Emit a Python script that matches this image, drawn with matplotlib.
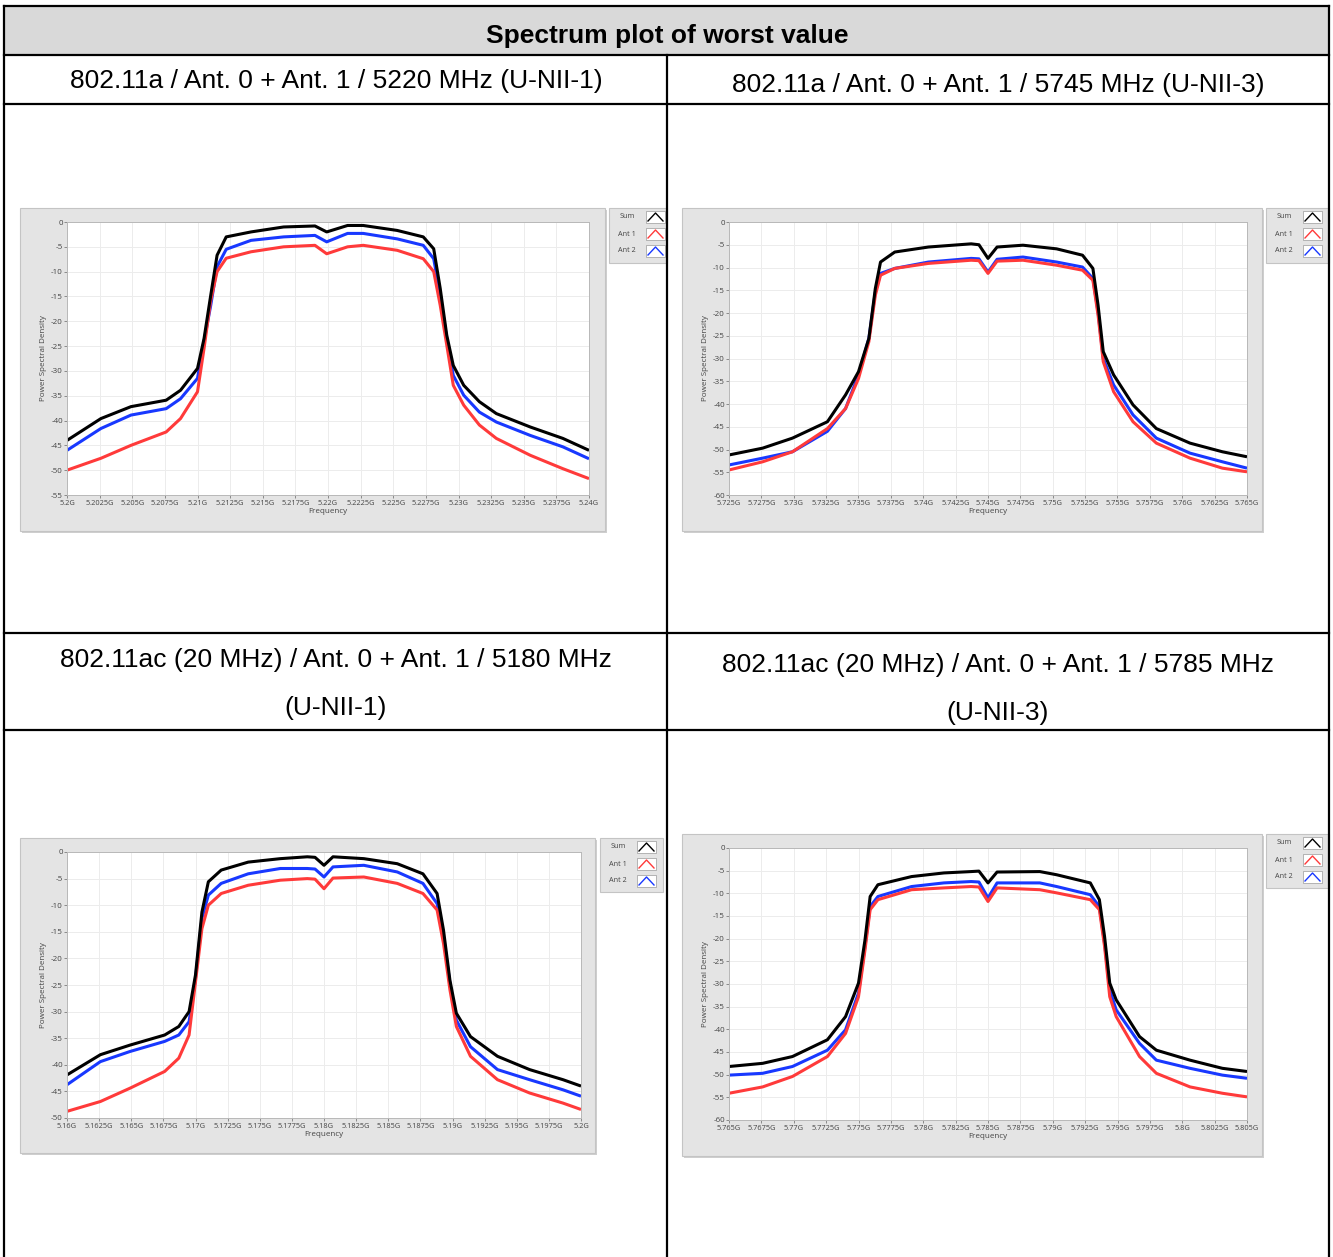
import matplotlib
matplotlib.use('Agg')
import matplotlib.pyplot as plt
from matplotlib.patches import Rectangle
from matplotlib.ticker import FuncFormatter
import numpy as np

plt.rcParams['axes.unicode_minus'] = False

# ---------------- data (GHz, dB) ----------------
# 802.11a 5220 MHz (U-NII-1)
freq_a_5220 = [5.2, 5.2026, 5.2049, 5.2076, 5.2087, 5.21, 5.2105, 5.211, 5.2115, 5.2122, 5.2141, 5.2166,
               5.219, 5.2199, 5.2215, 5.2227, 5.2253, 5.2273, 5.2281, 5.2286, 5.2291, 5.2296, 5.2304,
               5.2316, 5.2329, 5.2355, 5.238, 5.24]
sum_a_5220 = [-44, -39.6, -37.2, -35.9, -33.9, -29.5, -23.5, -15, -6.7, -3, -2, -1, -0.8, -2, -0.7, -0.7,
              -1.7, -3, -5.4, -13.4, -22.8, -28.9, -32.9, -36.2, -38.6, -41.3, -43.6, -46]
ant1_a_5220 = [-50, -47.6, -45, -42.3, -39.6, -34.2, -25.5, -16, -10, -7.3, -6, -5, -4.7, -6.4, -5, -4.7,
               -5.7, -7.4, -10, -16.8, -24.8, -32.9, -36.9, -40.9, -43.6, -47, -49.7, -51.7]
ant2_a_5220 = [-46, -41.6, -38.9, -37.6, -35.6, -31.5, -24, -17, -9, -5.5, -3.7, -3, -2.7, -4, -2.3, -2.3,
               -3.4, -4.7, -7.4, -14.8, -23.5, -30.9, -34.9, -38.3, -40.3, -43, -45.3, -47.7]

# 802.11a 5745 MHz (U-NII-3)
freq_a_5745 = [5.725, 5.7276, 5.7299, 5.7326, 5.734, 5.735, 5.7358, 5.7363, 5.7367, 5.7378, 5.7404, 5.7437,
               5.7443, 5.745, 5.7457, 5.7477, 5.7503, 5.7523, 5.7531, 5.7535, 5.7539, 5.7547, 5.7562,
               5.758, 5.7606, 5.7631, 5.765]
sum_a_5745 = [-51.2, -49.7, -47.5, -43.9, -38, -32.9, -25.6, -14.6, -8.8, -6.6, -5.5, -4.8, -5.0, -8, -5.5,
              -5.1, -5.9, -7.3, -10.2, -18.3, -28.5, -33.6, -40.2, -45.4, -48.6, -50.5, -51.6]
ant1_a_5745 = [-54.5, -52.7, -50.5, -45.4, -41, -34.4, -26.3, -16.1, -11.7, -10.2, -9.1, -8.4, -8.5, -11.3,
               -8.6, -8.4, -9.5, -10.6, -12.8, -20.5, -30.7, -37.3, -43.9, -48.6, -51.9, -54.1, -54.9]
ant2_a_5745 = [-53.4, -51.9, -50.5, -46, -41, -33.6, -25.6, -15.4, -11.3, -10.2, -8.8, -8, -8.1, -11, -8.2,
               -7.7, -8.8, -9.9, -12.4, -19.8, -30, -35.8, -42.4, -47.5, -50.8, -52.7, -54.1]

# 802.11ac (20 MHz) 5180 MHz (U-NII-1)
freq_ac_5180 = [5.16, 5.1626, 5.1649, 5.1676, 5.1687, 5.1695, 5.17, 5.1705, 5.171, 5.172, 5.1741, 5.1766,
                5.1787, 5.1793, 5.18, 5.1807, 5.1831, 5.1857, 5.1877, 5.1888, 5.1893, 5.1898, 5.1903,
                5.1914, 5.1935, 5.196, 5.1986, 5.2]
sum_ac_5180 = [-41.9, -38.1, -36.3, -34.4, -32.8, -30, -23.1, -11.3, -5.6, -3.4, -1.9, -1.25, -0.9, -1.0,
               -2.5, -0.9, -1.25, -2.2, -4.1, -7.8, -14.7, -24.1, -30.3, -34.7, -38.4, -40.9, -42.8, -44]
ant1_ac_5180 = [-48.75, -46.9, -44.4, -41.25, -38.75, -34.4, -24.4, -14.4, -10, -7.8, -6.25, -5.3, -5,
                -5.1, -6.9, -4.9, -4.7, -5.9, -7.8, -10.9, -17.2, -25.9, -32.8, -38.4, -42.8, -45.3,
                -47.2, -48.4]
ant2_ac_5180 = [-43.75, -39.4, -37.5, -35.6, -34.4, -31.9, -23.75, -12.5, -8.1, -5.9, -4.1, -3.1, -3.1,
                -3.2, -4.7, -2.8, -2.5, -3.75, -5.9, -9.7, -15.9, -24.7, -31.6, -36.6, -40.9, -42.8,
                -44.7, -45.9]

# 802.11ac (20 MHz) 5785 MHz (U-NII-3)
freq_ac_5785 = [5.765, 5.7676, 5.7699, 5.7726, 5.774, 5.775, 5.7755, 5.7759, 5.7765, 5.7791, 5.7816,
                5.7837, 5.7843, 5.785, 5.7857, 5.789, 5.7903, 5.7929, 5.7936, 5.794, 5.7944, 5.7949,
                5.7967, 5.798, 5.8006, 5.8031, 5.805]
sum_ac_5785 = [-48.2, -47.5, -46, -42.3, -37.2, -29.8, -20.3, -10.7, -8.1, -6.3, -5.5, -5.2, -5.1, -7.7,
               -5.3, -5.2, -5.9, -7.7, -11.4, -19.5, -29.8, -33.5, -41.6, -44.6, -46.8, -48.6, -49.3]
ant1_ac_5785 = [-54.1, -52.7, -50.4, -46, -40.9, -32.8, -22.5, -13.6, -11.4, -9.2, -8.8, -8.5, -8.6, -11.8,
                -8.8, -9.2, -9.9, -11.4, -13.6, -21.7, -32.8, -37.2, -46, -49.7, -52.7, -54.1, -54.9]
ant2_ac_5785 = [-50.1, -49.7, -48.2, -44.6, -40.1, -32, -21.7, -12.9, -10.7, -8.5, -7.7, -7.4, -7.5, -11,
                -7.7, -7.7, -8.5, -10.3, -12.9, -21, -31.3, -35.7, -43.1, -46.8, -48.6, -50.1, -50.8]

legend_labels = ["Sum", "Ant 1", "Ant 2"]
header_text = "Spectrum plot of worst value"
cell_titles = [
    "802.11a / Ant. 0 + Ant. 1 / 5220 MHz (U-NII-1)",
    "802.11a / Ant. 0 + Ant. 1 / 5745 MHz (U-NII-3)",
    "802.11ac (20 MHz) / Ant. 0 + Ant. 1 / 5180 MHz\n(U-NII-1)",
    "802.11ac (20 MHz) / Ant. 0 + Ant. 1 / 5785 MHz\n(U-NII-3)",
]

# ---------------- figure ----------------
W, H = 1333, 1257
fig = plt.figure(figsize=(W / 100, H / 100), dpi=100)
ax0 = fig.add_axes([0, 0, 1, 1])
ax0.set_xlim(0, W)
ax0.set_ylim(H, 0)
ax0.axis('off')

TFONT = 'Liberation Sans'
CFONT = 'Open Sans'
C_SUM, C_A1, C_A2 = '#000000', '#ff3a3a', '#1838ff'
TXT = '#444444'

# table
ax0.add_patch(Rectangle((4, 6), 1325, 49, facecolor='#d9d9d9', edgecolor='none'))
tlw = 1.6
for y in [6, 55, 104, 633, 730]:
    ax0.plot([4, 1329], [y, y], color='black', lw=tlw, solid_capstyle='projecting')
for x, y0 in [(4, 6), (1329, 6), (667, 55)]:
    ax0.plot([x, x], [y0, H + 5], color='black', lw=tlw)

TS = 19
ax0.text(667, 36, header_text, ha='center', va='center', fontsize=TS,
         fontweight='bold', family=TFONT)
ax0.text(336, 81, cell_titles[0], ha='center', va='center', fontsize=TS, family=TFONT)
ax0.text(998, 85, cell_titles[1], ha='center', va='center', fontsize=TS, family=TFONT)
ax0.text(336, 684, cell_titles[2], ha='center', va='center', fontsize=TS, family=TFONT,
         linespacing=2.25)
ax0.text(998, 689, cell_titles[3], ha='center', va='center', fontsize=TS, family=TFONT,
         linespacing=2.25)


def fmt_freq(v, pos=None):
    s = f"{v:.4f}".rstrip('0').rstrip('.')
    return s + 'G'


def draw_chart(panel, plot, legend, freq, s_sum, s_a1, s_a2, xlim, ymin):
    px0, py0, px1, py1 = panel
    ax0.add_patch(Rectangle((px0 + 2, py0 + 2), px1 - px0, py1 - py0, facecolor='#cfcfcf',
                            edgecolor='none'))
    ax0.add_patch(Rectangle((px0, py0), px1 - px0, py1 - py0, facecolor='#e4e4e4',
                            edgecolor='#c4c4c4', lw=0.8))
    x0, y0, x1, y1 = plot
    ax = fig.add_axes([x0 / W, 1 - y1 / H, (x1 - x0) / W, (y1 - y0) / H])
    ax.set_facecolor('white')
    for series, col in [(s_a2, C_A2), (s_a1, C_A1), (s_sum, C_SUM)]:
        ax.plot(freq, series, color=col, lw=2.2, solid_joinstyle='round',
                solid_capstyle='butt')
    ax.set_xlim(*xlim)
    ax.set_ylim(ymin, 0)
    ax.set_xticks(np.arange(xlim[0], xlim[1] + 1e-9, 0.0025))
    ax.xaxis.set_major_formatter(FuncFormatter(fmt_freq))
    ax.set_yticks(np.arange(ymin, 0.1, 5))
    ax.yaxis.set_major_formatter(FuncFormatter(lambda v, p: f"{int(round(v))}"))
    ax.tick_params(axis='x', labelsize=5.3, length=2, width=0.5, color='#666666',
                   labelcolor=TXT, pad=1.5)
    ax.tick_params(axis='y', labelsize=5.8, length=2, width=0.5, color='#666666',
                   labelcolor=TXT, pad=1)
    for lab in ax.get_xticklabels() + ax.get_yticklabels():
        lab.set_family(CFONT)
    ax.grid(True, color='#ececec', lw=0.7)
    ax.set_axisbelow(True)
    for s in ax.spines.values():
        s.set_color('#b8b8b8')
        s.set_linewidth(0.7)
    ax.set_xlabel('Frequency', fontsize=5.8, color=TXT, family=CFONT, labelpad=1)
    ax.set_ylabel('Power Spectral Density', fontsize=5.8, color=TXT, family=CFONT,
                  labelpad=3)
    lx0, ly0, lx1, ly1 = legend
    ax0.add_patch(Rectangle((lx0, ly0), lx1 - lx0, ly1 - ly0, facecolor='#e4e4e4',
                            edgecolor='#c4c4c4', lw=0.8))
    for i, (lab, col) in enumerate(zip(legend_labels, [C_SUM, C_A1, C_A2])):
        cy = ly0 + 9 + i * 17
        ax0.text(lx0 + 18, cy, lab, ha='center', va='center', fontsize=5.2,
                 color=TXT, family=CFONT)
        bx = lx0 + 37
        ax0.add_patch(Rectangle((bx, cy - 6), 19, 12, facecolor='white', edgecolor='#9a9a9a',
                                lw=0.5))
        ax0.plot([bx + 2, bx + 9.5, bx + 17], [cy + 4, cy - 4, cy + 4], color=col, lw=1.0)


draw_chart((20, 208, 605, 531), (67, 222, 589, 495), (609, 208, 667, 263),
           freq_a_5220, sum_a_5220, ant1_a_5220, ant2_a_5220, (5.2, 5.24), -55)
draw_chart((682, 208, 1262, 531), (729, 222, 1247, 495), (1266, 208, 1329, 263),
           freq_a_5745, sum_a_5745, ant1_a_5745, ant2_a_5745, (5.725, 5.765), -60)
draw_chart((20, 838, 595, 1153), (67, 852, 581, 1118), (600, 838, 663, 892),
           freq_ac_5180, sum_ac_5180, ant1_ac_5180, ant2_ac_5180, (5.16, 5.2), -50)
draw_chart((682, 834, 1262, 1156), (729, 848, 1247, 1120), (1266, 834, 1329, 888),
           freq_ac_5785, sum_ac_5785, ant1_ac_5785, ant2_ac_5785, (5.765, 5.805), -60)

fig.savefig('out.png', dpi=100, facecolor='white')
